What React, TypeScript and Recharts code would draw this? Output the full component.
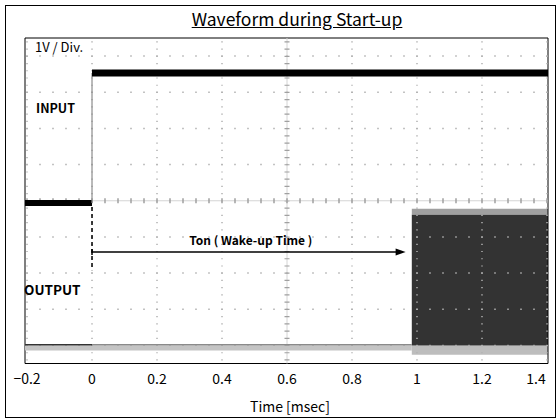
import React from "react";
import { ComposedChart, Line, Area, XAxis, YAxis, ReferenceLine, ReferenceArea } from "recharts";

// scope screen: time in msec, level in divisions (1V / Div.)
const TIME_TICKS = [-0.2, 0, 0.2, 0.4, 0.6, 0.8, 1, 1.2, 1.4];
const TIME_DOMAIN = [-0.2062, 1.4031];
const LEVEL_GRID = [-4, -3, -2, -1, 1, 2, 3, 4];
const LEVEL_DOMAIN = [-4.5, 4.5];
const CENTER_TIME = 0.6;
const CENTER_LEVEL = 0;

const INPUT_TIME = [-0.2062, 0, 1.4031]; // start, switch-on, end
const INPUT_LEVEL = [-0.06, 3.53]; // off, on

const OUTPUT_TIME = [-0.2062, 0, 0.984, 1.4031]; // start, input on, output starts, end
const OUTPUT_OFF = [-3.98, -4.07]; // trace, trace shadow
const OUTPUT_SWING = [-4.0, -0.39];
const OUTPUT_SPREAD = [-4.26, -0.22];

const WAKE_UP_TIME = [0, 0.965];
const WAKE_UP_LEVEL = -1.42;
const MARKER_LEVEL = [-0.17, -1.92];

const FONT = "'Noto Sans CJK JP', 'Liberation Sans', sans-serif";

const pt = (t: number, v: number) => ({ t, v });

const inputOff = [pt(INPUT_TIME[0], INPUT_LEVEL[0]), pt(INPUT_TIME[1], INPUT_LEVEL[0])];
const inputEdge = [pt(INPUT_TIME[1], INPUT_LEVEL[0]), pt(INPUT_TIME[1], INPUT_LEVEL[1])];
const inputOn = [pt(INPUT_TIME[1], INPUT_LEVEL[1]), pt(INPUT_TIME[2], INPUT_LEVEL[1])];

const outputShadow = [pt(OUTPUT_TIME[0], OUTPUT_OFF[1]), pt(OUTPUT_TIME[2], OUTPUT_OFF[1])];
const outputBefore = [pt(OUTPUT_TIME[0], OUTPUT_OFF[0]), pt(OUTPUT_TIME[1], OUTPUT_OFF[0])];
const outputWait = [pt(OUTPUT_TIME[1], OUTPUT_OFF[0]), pt(OUTPUT_TIME[2], OUTPUT_OFF[0])];
const outputOn = [OUTPUT_TIME[2], OUTPUT_TIME[3]].map((t) => ({
  t,
  core: OUTPUT_SWING,
  top: [OUTPUT_SWING[1], OUTPUT_SPREAD[1]],
  bot: [OUTPUT_SPREAD[0], OUTPUT_SWING[0]],
}));

const fmt = (v: number) => (v < 0 ? "\u2212" + Math.abs(v) : String(v));

function TimeTick(props: any) {
  const { x, y, payload } = props;
  const last = payload.value === TIME_TICKS[TIME_TICKS.length - 1];
  return (
    <text x={last ? x - 11 : x} y={y} dy={12} textAnchor="middle" fontSize={14} fill="#000" fontFamily={FONT}>
      {fmt(payload.value)}
    </text>
  );
}

function Arrow(props: any) {
  const { x1, y1, x2, y2 } = props;
  return (
    <g>
      <line x1={x1} y1={y1} x2={x2 - 6} y2={y2} stroke="#000" strokeWidth={1.5} />
      <line x1={x1} y1={y1 - 3} x2={x1} y2={y1 + 3} stroke="#000" strokeWidth={1.5} />
      <polygon points={`${x2},${y2} ${x2 - 10},${y2 - 3.5} ${x2 - 10},${y2 + 3.5}`} fill="#000" />
      <text x={(x1 + x2) / 2 + 2} y={y1 - 7} textAnchor="middle" fontSize={12} fontWeight="bold" fontFamily={FONT}>
        Ton ( Wake-up Time )
      </text>
    </g>
  );
}

const label = (style: React.CSSProperties): React.CSSProperties => ({
  position: "absolute",
  fontFamily: FONT,
  color: "#000",
  whiteSpace: "nowrap",
  lineHeight: 1,
  ...style,
});

export default function App() {
  return (
    <div style={{ position: "absolute", left: 0, top: 0, width: 557, height: 420, background: "#fff" }}>
      <div
        style={{
          position: "absolute",
          left: 5,
          top: 5,
          width: 551,
          height: 413,
          border: "1px solid #000",
          boxSizing: "border-box",
        }}
      />
      <ComposedChart
        width={557}
        height={420}
        data={outputOn}
        margin={{ top: 38, left: 25, right: 9, bottom: 26.5 }}
        style={{ position: "absolute", left: 0, top: 0 }}
      >
        <XAxis
          type="number"
          dataKey="t"
          domain={TIME_DOMAIN}
          ticks={TIME_TICKS}
          interval={0}
          allowDataOverflow
          axisLine={false}
          tickLine={false}
          height={30}
          tick={<TimeTick />}
        />
        <YAxis type="number" domain={LEVEL_DOMAIN} allowDataOverflow hide />

        {TIME_TICKS.filter((t) => t !== CENTER_TIME).map((t) => (
          <ReferenceLine key={"vx" + t} x={t} stroke="#b0b0b0" strokeWidth={1.5} strokeDasharray="1.2 6.03" strokeDashoffset={4.3} />
        ))}
        {LEVEL_GRID.map((v) => (
          <ReferenceLine key={"hy" + v} y={v} stroke="#b0b0b0" strokeWidth={1.5} strokeDasharray="1.5 11.5" strokeDashoffset={11.75} />
        ))}
        <ReferenceLine x={CENTER_TIME} stroke="#d4d4d4" strokeWidth={1} />
        <ReferenceLine x={CENTER_TIME} stroke="#a0a0a0" strokeWidth={5} strokeDasharray="1.2 6.03" strokeDashoffset={4.3} />
        <ReferenceLine y={CENTER_LEVEL} stroke="#d4d4d4" strokeWidth={1} />
        <ReferenceLine y={CENTER_LEVEL} stroke="#a0a0a0" strokeWidth={5} strokeDasharray="1.5 11.5" strokeDashoffset={11.75} />

        <Area dataKey="top" type="linear" stroke="none" fill="#a0a0a0" fillOpacity={1} isAnimationActive={false} />
        <Area dataKey="bot" type="linear" stroke="none" fill="#bdbdbd" fillOpacity={1} isAnimationActive={false} />
        <Area dataKey="core" type="linear" stroke="none" fill="#333333" fillOpacity={1} isAnimationActive={false} />

        <Line data={outputShadow} dataKey="v" type="linear" stroke="#c4c4c4" strokeWidth={5} dot={false} isAnimationActive={false} />
        <Line data={outputBefore} dataKey="v" type="linear" stroke="#333" strokeWidth={1.5} dot={false} isAnimationActive={false} />
        <Line data={outputWait} dataKey="v" type="linear" stroke="#8a8a8a" strokeWidth={1.5} dot={false} isAnimationActive={false} />

        <Line data={inputOff} dataKey="v" type="linear" stroke="#000" strokeWidth={6} dot={false} isAnimationActive={false} />
        <Line data={inputEdge} dataKey="v" type="linear" stroke="#8c8c8c" strokeWidth={1.2} dot={false} isAnimationActive={false} />
        <Line data={inputOn} dataKey="v" type="linear" stroke="#000" strokeWidth={7} dot={false} isAnimationActive={false} />

        <ReferenceLine
          segment={[
            { x: WAKE_UP_TIME[0], y: MARKER_LEVEL[0] },
            { x: WAKE_UP_TIME[0], y: MARKER_LEVEL[1] },
          ]}
          stroke="#000"
          strokeWidth={1.5}
          strokeDasharray="4 3"
        />
        <ReferenceLine
          segment={[
            { x: WAKE_UP_TIME[0], y: WAKE_UP_LEVEL },
            { x: WAKE_UP_TIME[1], y: WAKE_UP_LEVEL },
          ]}
          shape={Arrow}
        />

        <ReferenceArea
          x1={TIME_DOMAIN[0]}
          x2={TIME_DOMAIN[1]}
          y1={LEVEL_DOMAIN[0]}
          y2={LEVEL_DOMAIN[1]}
          fill="none"
          stroke="#000"
          strokeWidth={1}
        />
      </ComposedChart>

      <div style={label({ left: 297, top: 10, fontSize: 17.5, textDecoration: "underline", transform: "translateX(-50%)" })}>
        Waveform during Start-up
      </div>
      <div style={label({ left: 35, top: 40, fontSize: 13 })}>1V / Div.</div>
      <div style={label({ left: 36, top: 102, fontSize: 12.5, fontWeight: "bold" })}>INPUT</div>
      <div style={label({ left: 24, top: 283, fontSize: 13.5, fontWeight: "bold" })}>OUTPUT</div>
      <div style={label({ left: 290, top: 399, fontSize: 14, transform: "translateX(-50%)" })}>Time [msec]</div>
    </div>
  );
}
